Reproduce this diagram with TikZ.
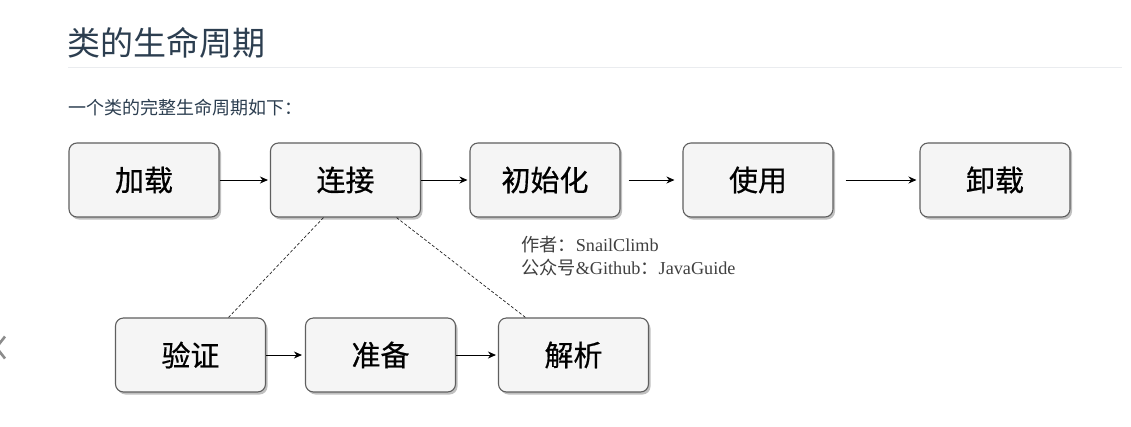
\documentclass[tikz,border=0pt]{standalone}
\usepackage{fontspec}
\setmainfont{Liberation Serif}
\newfontfamily\cjk{Noto Sans CJK SC}
\newfontfamily\cjkheavy{Noto Sans CJK SC}[FakeBold=0.6]
\usetikzlibrary{shadows,arrows.meta}
\definecolor{headcol}{HTML}{2C3E50}
\definecolor{boxfill}{HTML}{F5F5F5}
\definecolor{boxline}{HTML}{5F5F5F}
\definecolor{rulecol}{HTML}{EAECEF}

\tikzset{
stage/.style={draw=boxline, fill=boxfill, rounded corners=8pt,
	minimum width=150pt, minimum height=74pt, line width=1.1pt,
	font=\cjkheavy\fontsize{29}{32}\selectfont,
	drop shadow={shadow xshift=2pt, shadow yshift=-2.5pt, opacity=0.35, fill=black!70}},
flow/.style={-{Stealth[length=8pt,width=7pt]}, line width=0.9pt},
part/.style={dash pattern=on 3pt off 2pt, line width=0.7pt, black!85},
credit/.style={anchor=west, inner sep=0, text=black!75, font=\fontsize{18.2}{20}\selectfont}
}

\begin{document}
\begin{tikzpicture}[x=1pt,y=-1pt]

\fill[white,use as bounding box] (0,0) rectangle (1131,426);

% heading and intro line
\node [anchor=west, inner sep=0, text=headcol, font=\cjk\fontsize{33}{37}\selectfont] (title) at (67,43) {类的生命周期};
\draw [rulecol, line width=1pt] (68,67) -- (1122,67);
\node [anchor=west, inner sep=0, text=headcol, font=\cjk\fontsize{18}{20}\selectfont] (intro) at (68,108) {一个类的完整生命周期如下：};

% main stages
\node [stage] (load) at (144,180) {加载};
\node [stage] (link) at (345.5,180) {连接};
\node [stage] (init) at (545,180) {初始化};
\node [stage] (use) at (758,180) {使用};
\node [stage] (unload) at (995,180) {卸载};

% parts of linking
\node [stage] (verify) at (190.5,355) {验证};
\node [stage] (prepare) at (380.5,355) {准备};
\node [stage] (resolve) at (573.5,355) {解析};

\draw [flow, shorten >=2pt] (load) -- (link);
\draw [flow, shorten >=2pt] (link) -- (init);
\draw [flow, shorten <=8pt, shorten >=8pt] (init) -- (use);
\draw [flow, shorten <=12pt, shorten >=3pt] (use) -- (unload);
\draw [flow, shorten >=3pt] (verify) -- (prepare);
\draw [flow, shorten >=2pt] (prepare) -- (resolve);

\draw [part] ([xshift=-22pt]link.south) -- ([xshift=38pt]verify.north);
\draw [part] ([xshift=51pt]link.south) -- ([xshift=-48pt]resolve.north);

% credit
\node [credit] (author) at (521,245) {{\cjk 作者：}SnailClimb};
\node [credit] (account) at (521,268) {{\cjk 公众号}\&Github{\cjk ：}JavaGuide};

% cut-off chevron at the edge
\draw [black!45, line width=2.6pt] (5,336.5) -- (-3.6,347.5) -- (5,358.5);

\end{tikzpicture}
\end{document}
